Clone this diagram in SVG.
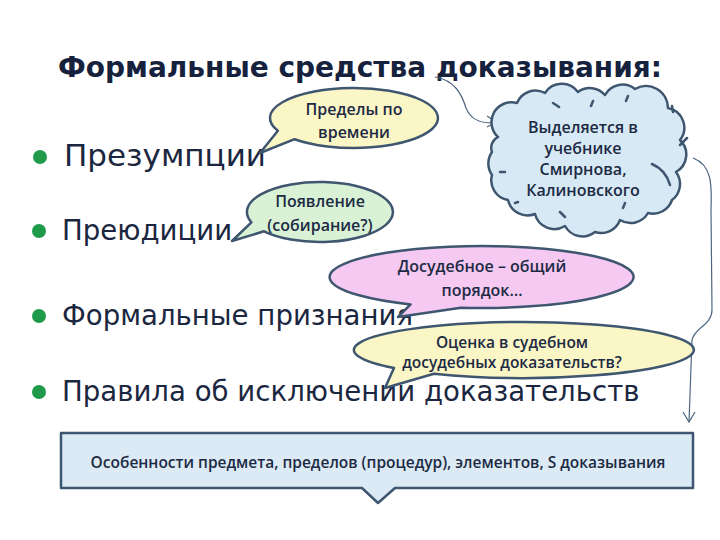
<svg xmlns="http://www.w3.org/2000/svg" width="720" height="540" viewBox="0 0 720 540">
<defs>
<style>
.title{font-family:"DejaVu Sans",Verdana,sans-serif;font-weight:bold;font-size:28px;fill:#16223d}
.item{font-family:"DejaVu Sans",Verdana,sans-serif;font-size:27.6px;fill:#1b2740}
.bul{fill:#1f9a4a}
.note{font-family:"Open Sans","Noto Sans",sans-serif;font-weight:600;font-size:16px;fill:#1d2a44;text-anchor:middle}
.small{font-size:15.5px}
.shape{stroke:#3e566f;stroke-width:2.5;stroke-linejoin:round}
.dash{stroke:#3e566f;stroke-width:2.5;stroke-linecap:round;fill:none}
.conn{stroke:#4d6680;stroke-width:1.2;fill:none}
</style>
</defs>
<rect width="720" height="540" fill="#ffffff"/>
<text class="title" x="360" y="77" text-anchor="middle">Формальные средства доказывания:</text>

<g id="list">
<circle class="bul" cx="40" cy="157" r="7"/>
<text class="item" x="64" y="166" style="font-size:31px">Презумпции</text>
<circle class="bul" cx="39" cy="231" r="7"/>
<text class="item" x="62" y="240">Преюдиции</text>
<circle class="bul" cx="39" cy="316" r="7"/>
<text class="item" x="62" y="325">Формальные признания</text>
<circle class="bul" cx="39" cy="392" r="7"/>
<text class="item" x="62" y="401">Правила об исключении доказательств</text>
</g>

<g id="connectors">
<path class="conn" d="M435 77 C455 80 462 95 466 108 C472 122 485 124 496 122"/>
<path class="conn" d="M487 116 L496 122 L487 127"/>
<path class="conn" d="M693 158 C712 165 712 185 711 210 L712 310 C712 325 694 328 692 340 L689 422"/>
<path class="conn" d="M683 412 L689 422 L695 412"/>
</g>

<g id="bubble-time">
<path class="shape" fill="#fbf6c6" d="M277.9 130.7 A84 30 0 1 1 294.6 139.2 L260 153 Z"/>
<text class="note" x="354" y="115">Пределы по</text>
<text class="note" x="354" y="138">времени</text>
</g>

<g id="bubble-appear">
<path class="shape" fill="#d9f2d6" d="M251.4 222.3 A73 30 0 1 1 264.1 231.3 L232 241 Z"/>
<text class="note" x="320" y="207">Появление</text>
<text class="note" x="320" y="231">(собирание?)</text>
</g>

<g id="cloud">
<path class="shape" fill="#d7e9f4" d="M498 137 A20 20 0 0 1 517 103 A20 20 0 0 1 545 93 A20 20 0 0 1 578 92 A20 20 0 0 1 605 95 A20 20 0 0 1 635 89 A22 22 0 0 1 668 108 A20 20 0 0 1 680 140 A20 20 0 0 1 676 172 A20 20 0 0 1 672 200 A20 20 0 0 1 648 213 A20 20 0 0 1 620 220 A20 20 0 0 1 595 232 A20 20 0 0 1 565 226 A20 20 0 0 1 535 214 A20 20 0 0 1 508 200 A20 20 0 0 1 492 175 A20 20 0 0 1 492 152 A12 12 0 0 1 498 137 Z"/>
<path class="dash" d="M553 103 L559 107 M593 101 L591 106 M628 96 L626 101 M672 106 L673 112 M687 138 L680 145 M652 164 Q666 170 670 185 M500 172 L505 172 M515 203 L518 202 M560 212 L565 217 M625 203 L623 208"/>
<text class="note" x="583" y="133">Выделяется в</text>
<text class="note" x="583" y="154">учебнике</text>
<text class="note" x="583" y="175">Смирнова,</text>
<text class="note" x="583" y="196">Калиновского</text>
</g>

<g id="bubble-pretrial">
<path class="shape" fill="#f5c9f1" d="M410.6 304.4 A152 31 0 1 1 460.8 307.7 L398 317 Z"/>
<text class="note" x="482" y="272">Досудебное – общий</text>
<text class="note" x="482" y="296">порядок…</text>
</g>

<g id="bubble-eval">
<path class="shape" fill="#fbf6c6" d="M394 368 A170 28 0 1 1 434 373.7 L385 388 Z"/>
<text class="note small" x="512" y="348">Оценка в судебном</text>
<text class="note small" x="512" y="368">досудебных доказательств?</text>
</g>

<g id="summary">
<path class="shape" fill="#dbeaf5" d="M61 433 H693 V488 H395 L378 503 L362 488 H61 Z"/>
<text class="note small" x="378" y="468">Особенности предмета, пределов (процедур), элементов, S доказывания</text>
</g>
</svg>
